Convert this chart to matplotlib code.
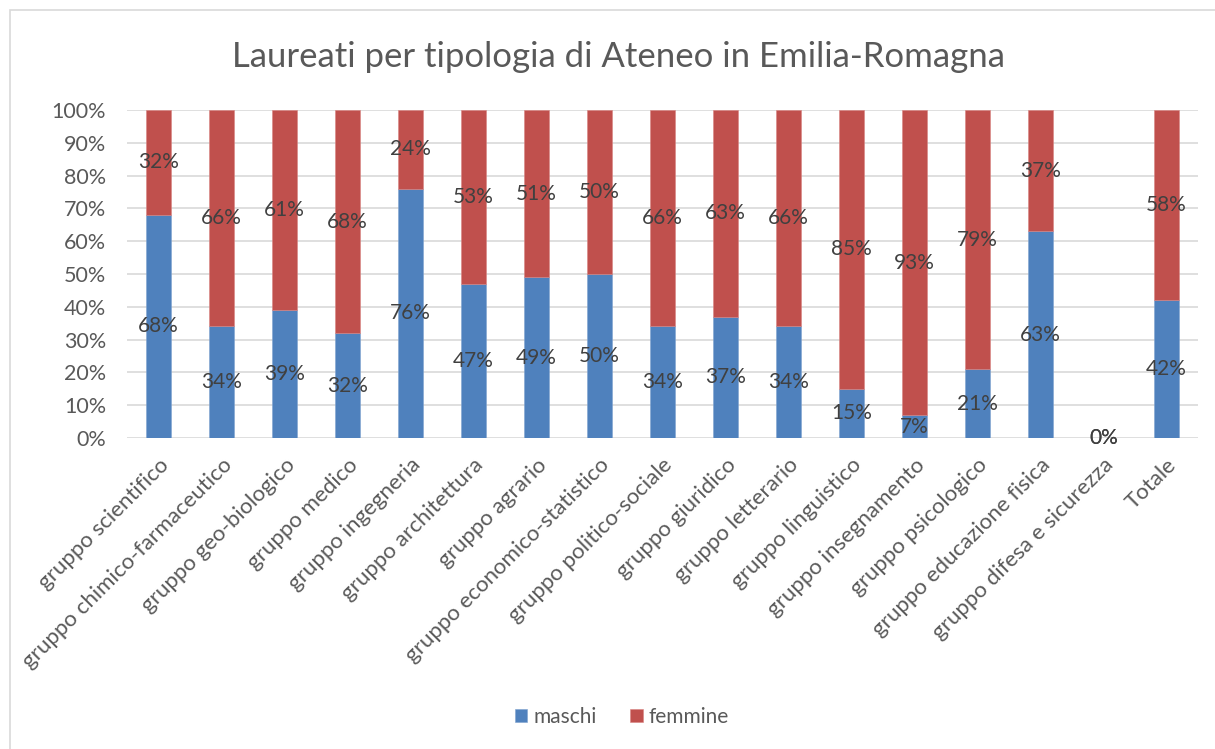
import matplotlib
matplotlib.use("Agg")
import matplotlib.pyplot as plt
import matplotlib.ticker as mticker
from matplotlib.patches import Rectangle
import numpy as np

plt.rcParams["font.family"] = ["Lato", "DejaVu Sans"]

categories = [
    "gruppo scientifico", "gruppo chimico-farmaceutico", "gruppo geo-biologico",
    "gruppo medico", "gruppo ingegneria", "gruppo architettura", "gruppo agrario",
    "gruppo economico-statistico", "gruppo politico-sociale", "gruppo giuridico",
    "gruppo letterario", "gruppo linguistico", "gruppo insegnamento",
    "gruppo psicologico", "gruppo educazione fisica", "gruppo difesa e sicurezza",
    "Totale",
]
maschi = [68, 34, 39, 32, 76, 47, 49, 50, 34, 37, 34, 15, 7, 21, 63, 0, 42]
femmine = [32, 66, 61, 68, 24, 53, 51, 50, 66, 63, 66, 85, 93, 79, 37, 0, 58]

COL_M = "#4F81BD"
COL_F = "#C0504D"
TXT = "#595959"
LBL = "#404040"

fig = plt.figure(figsize=(12.15, 7.49), dpi=100)
ax = fig.add_axes([127 / 1215, 1 - 438 / 749, 1071 / 1215, 328 / 749])

x = np.arange(len(categories))
m = np.array(maschi, dtype=float)
f = np.array(femmine, dtype=float)
tot = m + f
tot[tot == 0] = 1
mp = m / tot * 100
fp = f / tot * 100

ax.bar(x, mp, width=0.4, color=COL_M, edgecolor="#7FA3D0", linewidth=0.4,
       label="maschi", zorder=3)
ax.bar(x, fp, width=0.4, bottom=mp, color=COL_F, edgecolor="#D88482",
       linewidth=0.4, label="femmine", zorder=3)

for i in range(len(categories)):
    ax.text(x[i], mp[i] / 2, f"{maschi[i]}%", ha="center", va="center",
            fontsize=15, color=LBL, zorder=4)
    ax.text(x[i], mp[i] + fp[i] / 2, f"{femmine[i]}%", ha="center", va="center",
            fontsize=15, color=LBL, zorder=4)

ax.set_xlim(-0.5, len(categories) - 0.5)
ax.set_ylim(0, 100)
ax.set_yticks(np.arange(0, 101, 10))
ax.yaxis.set_major_formatter(mticker.FuncFormatter(lambda v, _: f"{v:.0f}%"))
ax.grid(axis="y", color="#D9D9D9", linewidth=1.2, zorder=0)
for s in ax.spines.values():
    s.set_visible(False)
ax.tick_params(axis="both", length=0, labelsize=15.5, colors=TXT)
ax.tick_params(axis="y", pad=15)
ax.set_xticks(x)
ax.set_xticklabels(categories, rotation=45, ha="right", rotation_mode="anchor",
                   fontsize=16)
ax.tick_params(axis="x", pad=12)

fig.text(618 / 1215, 1 - 57 / 749, "Laureati per tipologia di Ateneo in Emilia-Romagna",
         ha="center", va="center", fontsize=25, color=TXT)

fig.legend(loc="center", bbox_to_anchor=(622 / 1215, 1 - 717 / 749), ncol=2,
           frameon=False, fontsize=15, handlelength=0.6, handleheight=0.6,
           handletextpad=0.3, columnspacing=1.6, labelcolor=TXT)

fig.patches.append(Rectangle((10 / 1215, -0.05), 1.2, 1 - 10 / 749 + 0.05,
                             transform=fig.transFigure, fill=False,
                             edgecolor="#D9D9D9", linewidth=1.2))

fig.savefig("out.png", dpi=100)
